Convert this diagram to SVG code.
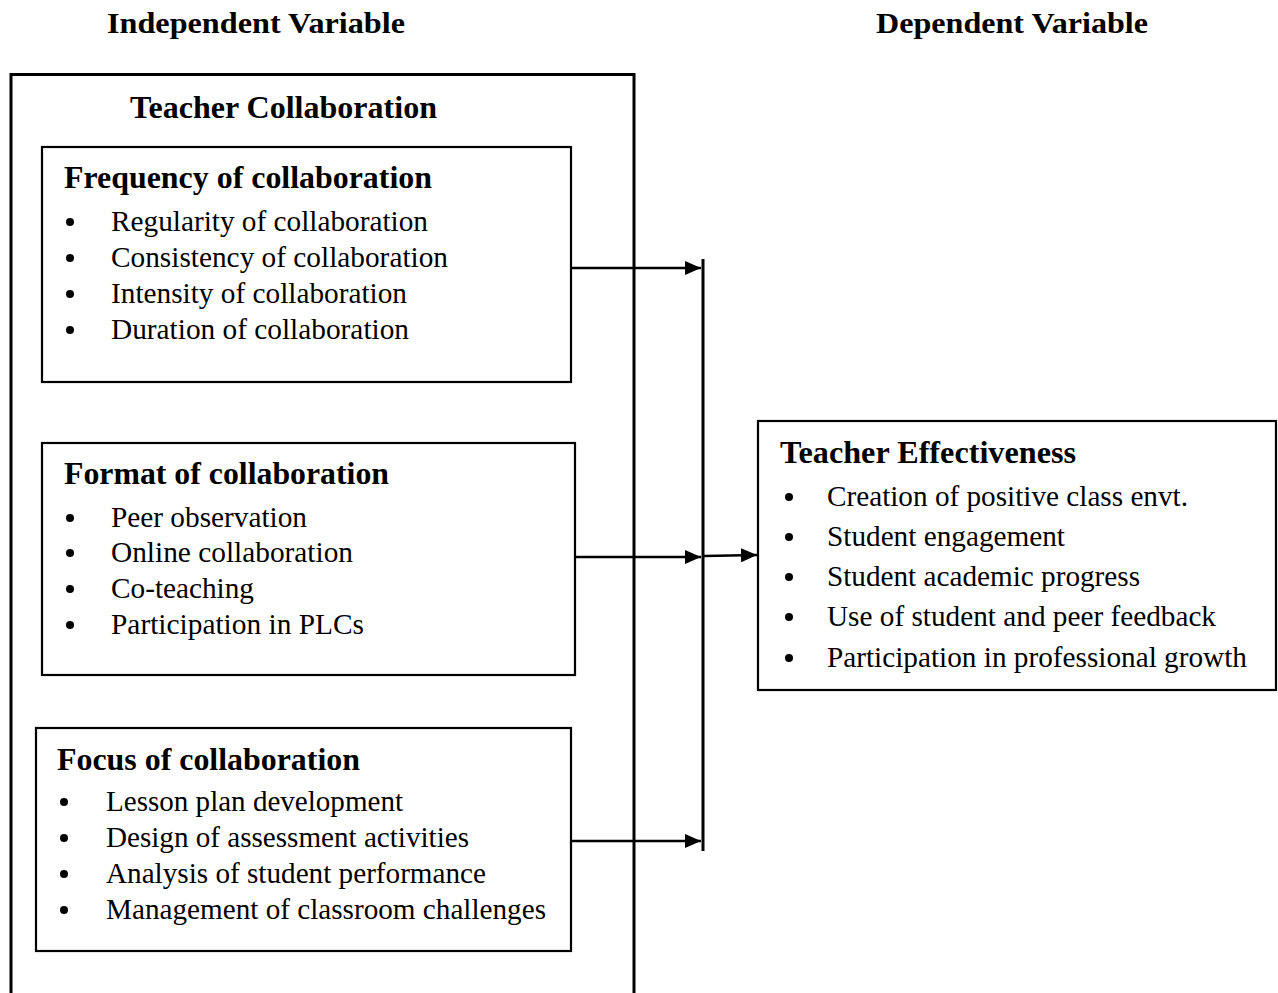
<svg xmlns="http://www.w3.org/2000/svg" width="1278" height="993" viewBox="0 0 1278 993" font-family="Liberation Serif, Times New Roman, serif">
<defs>
<style>
text{fill:#000}
.h{font-weight:bold;font-size:31px}
.top{font-weight:bold;font-size:29px}
.b{font-size:30px}
.box{fill:none;stroke:#000;stroke-width:2.2}
.ln{fill:none;stroke:#000;stroke-width:2.5}
</style>
<marker id="ah" viewBox="0 0 10 10" refX="10" refY="5" markerWidth="16" markerHeight="14" markerUnits="userSpaceOnUse" orient="auto" preserveAspectRatio="none">
<path d="M0,0 L10,5 L0,10 z" fill="#000"/>
</marker>
</defs>
<rect width="1278" height="993" fill="#fff"/>
<g id="headers" font-family="Liberation Serif">
<text class="top" x="107" y="33" textLength="298" lengthAdjust="spacingAndGlyphs">Independent Variable</text>
<text class="top" x="876" y="33" textLength="272" lengthAdjust="spacingAndGlyphs">Dependent Variable</text>
</g>

<g id="teacher-collaboration" font-family="Liberation Serif">
<rect x="11" y="74.5" width="623" height="940" fill="none" stroke="#000" stroke-width="3"/>
<text class="h" x="130" y="118" textLength="307" lengthAdjust="spacingAndGlyphs">Teacher Collaboration</text>
</g>

<g id="frequency" font-family="Liberation Serif">
<rect class="box" x="42" y="147" width="529" height="235"/>
<text class="h" x="64" y="188" textLength="368" lengthAdjust="spacingAndGlyphs">Frequency of collaboration</text>
<circle cx="70" cy="222" r="4"/><text class="b" x="111" y="231" textLength="317" lengthAdjust="spacingAndGlyphs">Regularity of collaboration</text>
<circle cx="70" cy="258" r="4"/><text class="b" x="111" y="267" textLength="337" lengthAdjust="spacingAndGlyphs">Consistency of collaboration</text>
<circle cx="70" cy="294" r="4"/><text class="b" x="111" y="303" textLength="296" lengthAdjust="spacingAndGlyphs">Intensity of collaboration</text>
<circle cx="70" cy="330" r="4"/><text class="b" x="111" y="339" textLength="298" lengthAdjust="spacingAndGlyphs">Duration of collaboration</text>
</g>

<g id="format" font-family="Liberation Serif">
<rect class="box" x="42" y="443" width="533" height="232"/>
<text class="h" x="64" y="484" textLength="325" lengthAdjust="spacingAndGlyphs">Format of collaboration</text>
<circle cx="70" cy="518" r="4"/><text class="b" x="111" y="527" textLength="196" lengthAdjust="spacingAndGlyphs">Peer observation</text>
<circle cx="70" cy="553" r="4"/><text class="b" x="111" y="562" textLength="242" lengthAdjust="spacingAndGlyphs">Online collaboration</text>
<circle cx="70" cy="589" r="4"/><text class="b" x="111" y="598" textLength="143" lengthAdjust="spacingAndGlyphs">Co-teaching</text>
<circle cx="70" cy="625" r="4"/><text class="b" x="111" y="634" textLength="253" lengthAdjust="spacingAndGlyphs">Participation in PLCs</text>
</g>

<g id="focus" font-family="Liberation Serif">
<rect class="box" x="36" y="728" width="535" height="223"/>
<text class="h" x="57" y="770" textLength="303" lengthAdjust="spacingAndGlyphs">Focus of collaboration</text>
<circle cx="64" cy="802" r="4"/><text class="b" x="106" y="811" textLength="297" lengthAdjust="spacingAndGlyphs">Lesson plan development</text>
<circle cx="64" cy="838" r="4"/><text class="b" x="106" y="847" textLength="363" lengthAdjust="spacingAndGlyphs">Design of assessment activities</text>
<circle cx="64" cy="874" r="4"/><text class="b" x="106" y="883" textLength="380" lengthAdjust="spacingAndGlyphs">Analysis of student performance</text>
<circle cx="64" cy="910" r="4"/><text class="b" x="106" y="919" textLength="440" lengthAdjust="spacingAndGlyphs">Management of classroom challenges</text>
</g>

<g id="teacher-effectiveness" font-family="Liberation Serif">
<rect class="box" x="758" y="421" width="518" height="269"/>
<text class="h" x="780" y="463" textLength="296" lengthAdjust="spacingAndGlyphs">Teacher Effectiveness</text>
<circle cx="789" cy="497" r="4"/><text class="b" x="827" y="506" textLength="361" lengthAdjust="spacingAndGlyphs">Creation of positive class envt.</text>
<circle cx="789" cy="537" r="4"/><text class="b" x="827" y="546" textLength="238" lengthAdjust="spacingAndGlyphs">Student engagement</text>
<circle cx="789" cy="577" r="4"/><text class="b" x="827" y="586" textLength="313" lengthAdjust="spacingAndGlyphs">Student academic progress</text>
<circle cx="789" cy="617" r="4"/><text class="b" x="827" y="626" textLength="389" lengthAdjust="spacingAndGlyphs">Use of student and peer feedback</text>
<circle cx="789" cy="658" r="4"/><text class="b" x="827" y="667" textLength="420" lengthAdjust="spacingAndGlyphs">Participation in professional growth</text>
</g>

<g id="connectors">
<line x1="703" y1="259" x2="703" y2="851" stroke="#000" stroke-width="3"/>
<line class="ln" x1="571" y1="268" x2="701" y2="268" marker-end="url(#ah)"/>
<line class="ln" x1="575" y1="557" x2="701" y2="557" marker-end="url(#ah)"/>
<line class="ln" x1="571" y1="841" x2="701" y2="841" marker-end="url(#ah)"/>
<line class="ln" x1="704" y1="556" x2="757" y2="555" marker-end="url(#ah)"/>
</g>
</svg>
